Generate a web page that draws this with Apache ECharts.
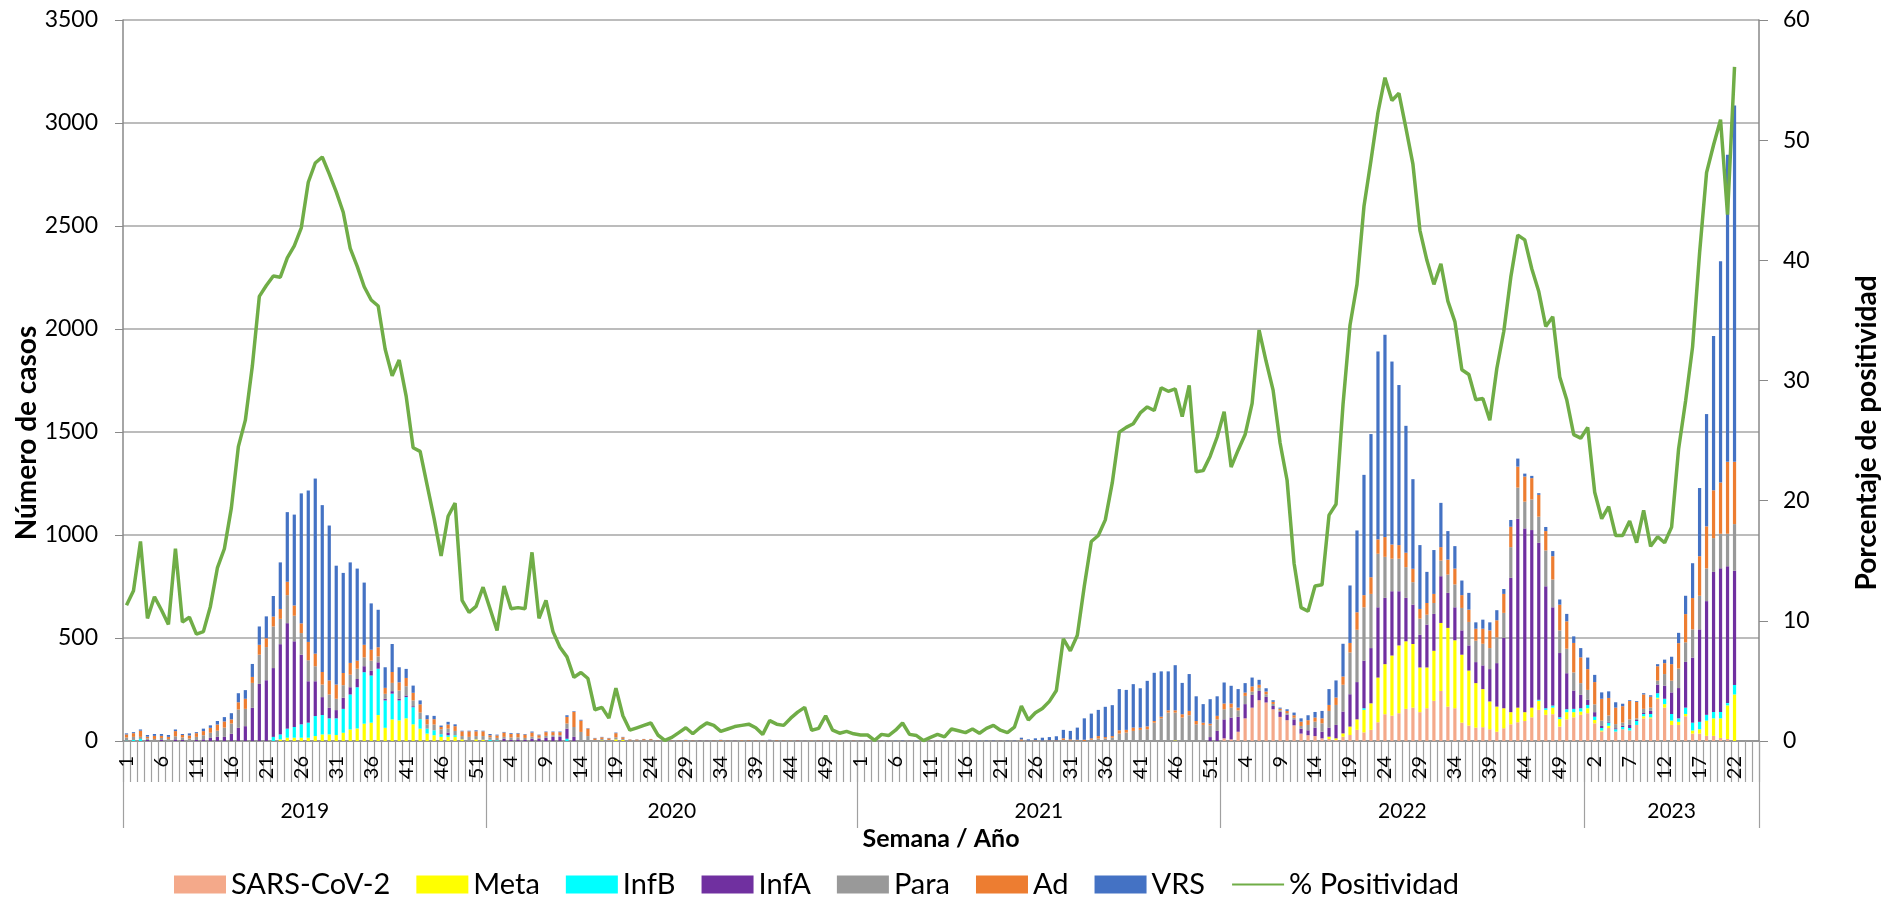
<!DOCTYPE html>
<html><head><meta charset="utf-8">
<script src="https://cdn.jsdelivr.net/npm/echarts@6/dist/echarts.min.js"></script>
<style>html,body{margin:0;padding:0;background:#fff}#c{width:1883px;height:899px}</style>
</head><body><div id="c"></div>
<script>
// ---- categories ----
const weeksPerYear = [52, 53, 52, 52, 25];
const yearLabels = ['2019', '2020', '2021', '2022', '2023'];
const seriesNames = ['SARS-CoV-2', 'Meta', 'InfB', 'InfA', 'Para', 'Ad', 'VRS'];
const lineName = '% Positividad';
const seriesColors = ['#F4A98A', '#FFFF00', '#00FFFF', '#7030A0', '#999999', '#ED7D31', '#4472C4'];
const lineColor = '#70AD47';

// ---- values (weekly cases) ----
const sarsCov2 = [
  // 2019
  0,0,0,0,0,0,0,0,0,0, 0,0,0,0,0,0,0,0,0,0, 0,0,0,0,0,0,0,0,0,0, 0,0,0,0,0,0,0,0,0,0, 0,0,0,0,0,0,0,0,0,0, 0,0,
  // 2020
  0,0,0,0,0,0,0,0,0,0, 0,0,0,0,0,0,0,0,0,0, 0,0,0,0,0,0,0,0,0,0, 0,0,0,0,0,0,0,0,0,0, 0,0,0,0,0,0,0,0,0,0, 0,0,0,
  // 2021
  0,0,0,0,0,0,0,0,0,0, 0,0,0,0,0,0,0,0,0,0, 0,0,0,0,0,0,0,0,0,0, 0,0,0,0,0,0,0,0,0,0, 0,0,0,0,0,0,0,0,0,0, 0,0,
  // 2022
  13,8,45,110,162,198,187,154,117,101, 76,36,28,24,13,10,5,21,29,54, 42,54,91,130,123,135,156,162,140,159,
  195,243,167,159,89,75,65,67,57,45, 62,81,91,97,115,151,127,130,70,105, 115,127,
  // 2023
  135,86,46,63,46,57,51,78,110,110, 205,162,78,78,120,36,36,25,25,15, 10,0
];
const meta = [
  // 2019
  0,0,0,0,0,0,0,0,0,0, 0,0,0,0,0,0,0,0,0,0, 0,0,
  8,16,16,16,16,24,32,32,29,40, 56,61,84,89,126,64,105,100,110,81, 60,36,28,20,20,20,8,0,8,6,
  // 2020
  0,0,0,0,0,0,0,0,0,0, 0,0,0,0,0,0,3,0,8,5,
  0,0,0,0,0,0,0,0,0,0, 0,0,0,0,0,0,0,0,0,0, 0,0,0,0,0,0,0,0,0,0, 0,0,0,
  // 2021
  0,0,0,0,0,0,0,0,0,0, 0,0,0,0,0,0,0,0,0,0, 0,0,0,0,0,0,0,0,0,0, 0,0,0,0,0,0,0,0,0,0, 0,0,0,0,0,3,0,0,0,0, 0,0,
  // 2022
  0,0,0,0,0,0,0,0,0,0, 0,0,0,0,0,
  11,8,16,41,51,109,129,217,243,292, 329,328,309,217,198,243,330,382,330,330, 267,216,185,135,122,97,59,71,43,47, 44,24,32,37,35,25,16,
  // 2023
  24,16,5,11,0,0,0,0,10,5, 5,17,21,15,11,15,21,74,85,95, 163,226
];
const infB = [
  // 2019
  2,5,10, 0,0,0,0,0,0,0,0,0,0, 0,0,0,0,0,0,0,0,
  20,24,44,52,65,73,97,94,78,81, 116,170,200,250,229,225,133,125,97,103, 83,46,24,24,13,8,8,0,0,0,0,
  // 2020
  6,3,0,0,0,0,0,0,0,0, 0,11,0,0,0,0,0,0,0,0,
  0,0,0,0,0,0,0,0,0,0, 0,0,0,0,0,0,0,0,0,0, 0,0,0,0,0,0,0,0,0,0, 0,0,0,
  // 2021
  0,0,0,0,0,0,0,0,0,0, 0,0,0,0,0,0,0,0,0,0, 0,0,0,0,0,0,0,0,0,0, 0,0,0,0,0,0,0,0,0,0, 0,0,0,0,0,0,0,0,0,0, 0,0,
  // 2022
  0,0,0,0,0,0,0,0,0,0, 0,0,0,0,0,0,0,0,0,0, 8,0,0,0,0,0,0,0,0,0,
  0,0,0,0,0,0,0,0,0,0, 0,0,0,0,0,5,8,10,8,14, 16,16,
  // 2023
  16,16,12,15,11,11,12,19,11,16, 22,26,32,17,31,38,36,28,31,31, 11,46
];
const infA = [
  // 2019
  0,0,0,5,0,5,0,8,5,0, 5,8,15,20,20,35,64,72,161,277, 295,334,438,512,416,338,201,169,87,51,
  40,54,35,40,29,24,31,8,12,8, 8,5,0,0,0,0,13,0,0,0, 0,0,
  // 2020
  0,0,11,5,8,5,11,10,15,20, 20,49,20,0,0,0,0,0,0,0, 0,0,0,0,0,0,1,0,0,0,
  0,1,0,0,0,1,0,0,0,0, 1,0,0,0,1,0,0,0,0,0, 0,0,0,
  // 2021
  0,0,0,0,0,0,0,0,0,0, 0,0,0,0,0,0,0,0,0,0, 0,0,0,0,0,0,0,0,0,0, 0,0,0,0,0,0,0,0,0,0, 0,0,0,0,0,0,0,0,0,0, 19,49,
  // 2022
  92,106,72,69,62,45,27,16,24,26, 29,24,24,41,32,44,65,106,157,181, 231,268,341,322,312,263,211,191,159,208,
  179,227,170,160,118,122,102,115,157,211, 341,652,917,892,862,762,592,477,312,175, 89,65,
  // 2023
  25,22,10,5,5,6,15,5,5,15, 42,63,105,147,222,316,449,552,680,697, 664,555
];
const para = [
  // 2019
  15,15,10,8,10,10,10,15,12,12, 15,20,25,30,45,50,89,84,121,142, 161,202,123,136,124,105,102,73,61,65,
  55,61,61,50,43,48,29,24,40,40, 45,28,32,21,28,24,19,21,16,20, 16,18,
  // 2020
  12,12,9,12,10,10,10,6,10,8, 8,25,48,44,24,5,7,5,10,5, 3,3,4,4,
  2,1,2,1,2,2,1,2,1,2, 1,2,2,1,2,1,2,1,2,2, 1,1,2,1,2,1,1,2,1,
  // 2021
  1,1,1,2,1,1,1,2,1,1, 1,1,1,1,1,1,2,1,1,1, 1,2,1,
  2,0,2,0,0,0,5,3,3,0, 6,12,12,16,36,41,49,54,57,89, 110,138,135,114,125,81,78,57,56,
  // 2022
  49,48,32,40,16,15,13,10,8,8, 8,13,26,29,41,81,97,130,203,254, 259,263,260,199,158,158,149,109,78,48,
  53,76,89,111,109,114,104,105,102,125, 122,149,151,130,149,127,174,135,110,119, 88,57,
  // 2023
  48,38,26,30,20,15,27,8,20,16, 19,57,57,95,95,137,163,159,164,168, 158,226
];
const ad = [
  // 2019
  15,18,30,8,15,10,10,25,12,15, 18,20,24,30,30,20,35,49,29,48, 43,48,48,65,50,47,89,61,61,68,
  69,59,57,39,61,53,44,29,53,40, 40,37,40,25,26,11,20,23,23,27, 23,23,
  // 2020
  10,12,21,18,18,16,20,12,18,15, 15,32,74,55,36,8,8,8,20,8, 4,4,5,5,
  2,3,1,2,3,2,2,1,2,3, 2,1,2,3,2,2,1,3,2,1, 2,1,1,2,1,2,1,1,2,
  // 2021
  1,1,1,1,1,0,1,1,0,1, 1,1,0,1,1,1,1,0,1,1, 1,1,1,
  6,2,2,2,3,3,8,5,3,6, 7,12,7,8,16,13,16,11,14,8, 8,11,11,16,21,16,11,8,17,
  // 2022
  28,20,13,16,25,15,13,10,8,11, 12,21,23,20,24,29,36,40,46,85, 59,81,70,96,69,66,70,65,47,57,
  44,65,73,77,62,60,58,73,86,83, 92,99,102,122,103,106,94,113,125,133, 143,125,
  // 2023
  101,108,106,85,80,80,89,80,70,53, 70,53,80,123,137,152,192,204,232,249, 349,302
];
const vrs = [
  // 2019
  5,5,6,8,9,9,9,8,5,10, 5,12,12,17,21,30,44,42,63,89, 106,100,226,338,441,631,735,850,810,752,
  577,486,488,447,302,225,182,100,136,73, 44,35,19,19,16,7,13,9,3,3, 5,3,
  // 2020
  6,4,3,4,3,3,5,3,3,3, 3,8,3,4,2,2,2,2,3,2, 1,1,1,1,
  1,1,0,1,1,1,2,1,1,1, 1,1,0,1,1,1,2,1,1,0, 1,1,0,1,1,1,0,1,1,
  // 2021
  1,1,0,1,1,1,2,1,1,1, 1,1,1,1,1,1,1,1,2,2, 1,2,2,
  8,6,9,14,16,20,41,41,59,104, 120,127,147,150,200,194,211,191,221,234, 220,189,219,152,179,120,90,119,95,
  // 2022
  102,86,90,46,43,24,16,8,5,8, 13,16,24,27,36,77,83,159,279,397, 584,695,912,982,888,777,616,435,310,151,
  213,215,138,109,71,81,31,44,39,49, 24,33,39,14,11,8,20,25,25,36, 32,45,
  // 2023
  56,35,31,32,26,12,4,4,6,7, 10,17,36,50,89,169,331,545,749,1074, 1491,1730
];
// ---- % positividad ----
const positividad = [
  // 2019
  11.3,12.5,16.6,10.2,12.0,10.9,9.7,16.0,9.9,10.3, 8.9,9.1,11.2,14.4,16.0,19.4,24.5,26.7,31.2,37.0,
  37.9,38.7,38.6,40.2,41.2,42.7,46.5,48.1,48.6,47.2, 45.7,44.0,41.0,39.5,37.8,36.7,36.2,32.6,30.4,31.7,
  28.7,24.4,24.1,21.3,18.5,15.4,18.7,19.8,11.7,10.7, 11.2,12.8,
  // 2020
  11.0,9.2,12.9,11.0,11.1,11.0,15.7,10.2,11.7,9.1, 7.8,7.0,5.3,5.7,5.2,2.6,2.8,1.9,4.4,2.1,
  0.9,1.1,1.3,1.5,0.5,0.05,0.3,0.7,1.1,0.6, 1.1,1.5,1.3,0.8,1.0,1.2,1.3,1.4,1.1,0.55,
  1.7,1.4,1.3,1.9,2.4,2.8,0.9,1.05,2.1,0.9, 0.65,0.8,0.6,
  // 2021
  0.5,0.5,0.05,0.55,0.45,0.9,1.5,0.55,0.45,0.03, 0.3,0.55,0.35,1.0,0.85,0.7,1.0,0.65,1.05,1.3,
  0.9,0.7,1.15,2.9,1.75,2.35,2.7,3.3,4.2,8.5, 7.5,8.8,12.9,16.6,17.1,18.4,21.5,25.7,26.1,26.4,
  27.3,27.8,27.5,29.4,29.1,29.3,27.0,29.6,22.4,22.5, 23.7,25.3,
  // 2022
  27.4,22.8,24.2,25.5,28.1,34.2,31.6,29.2,24.8,21.7, 14.8,11.1,10.8,12.9,13.0,18.8,19.7,28.0,34.6,38.0,
  44.5,48.3,52.3,55.2,53.3,53.9,51.0,48.0,42.5,40.0, 38.0,39.7,36.6,34.9,30.9,30.5,28.4,28.5,26.7,31.0,
  34.1,38.6,42.1,41.7,39.3,37.4,34.5,35.3,30.3,28.4, 25.5,25.2,
  // 2023
  26.1,20.7,18.5,19.5,17.1,17.1,18.3,16.5,19.2,16.2, 17.0,16.5,17.8,24.3,28.3,32.8,40.6,47.3,49.6,51.7,
  43.8,56.1
];
const yTicksLeft = { min: 0, max: 3500, interval: 500 };
const yTicksRight = { min: 0, max: 60, interval: 10 };
const leftTitle = 'Número de casos';
const rightTitle = 'Porcentaje de positividad';

// ---- build ----
const categories = [];
const yearBounds = [0];
weeksPerYear.forEach(n => {
  for (let w = 1; w <= n; w++) categories.push(String(w));
  yearBounds.push(yearBounds[yearBounds.length - 1] + n);
});
const yearMids = yearLabels.map((y, k) => (yearBounds[k] + yearBounds[k + 1]) / 2);
const pad = a => a.concat(new Array(categories.length - a.length).fill(null));
const barData = [sarsCov2, meta, infB, infA, para, ad, vrs];

const FONT = 'Lato';
const axisGray = '#898989';
const titleStyle = { fontSize: 28, fontWeight: 'bold', fontFamily: FONT, fill: '#000', align: 'center', verticalAlign: 'middle' };

const chart = echarts.init(document.getElementById('c'), null, { renderer: 'canvas' });
chart.setOption({
  animation: false,
  textStyle: { fontFamily: FONT },
  grid: { left: 123, right: 124, top: 20, bottom: 158, containLabel: false },
  legend: {
    left: 169, top: 865, itemWidth: 52, itemHeight: 18, itemGap: 26,
    textStyle: { fontSize: 29, color: '#000', fontFamily: FONT },
    data: seriesNames.map(n => ({ name: n, icon: 'rect' }))
      .concat([{ name: lineName, itemStyle: { opacity: 0 } }])
  },
  graphic: [
    { type: 'text', x: 27, y: 433, rotation: Math.PI / 2, silent: true,
      style: Object.assign({ text: leftTitle }, titleStyle) },
    { type: 'text', x: 1867, y: 433, rotation: Math.PI / 2, silent: true,
      style: Object.assign({ text: rightTitle }, titleStyle) }
  ],
  xAxis: [
    {
      type: 'category', data: categories, boundaryGap: true, position: 'bottom',
      axisLine: { show: true, lineStyle: { color: axisGray, width: 1.5 } },
      axisTick: { show: true, interval: 0, length: 41, lineStyle: { color: '#a0a0a0', width: 1.2 } },
      axisLabel: { interval: 4, rotate: 90, fontSize: 20, color: '#000', margin: 15, fontFamily: FONT },
      splitLine: { show: false }
    },
    {
      type: 'value', min: 0, max: categories.length, position: 'bottom',
      name: 'Semana / Año', nameLocation: 'middle', nameGap: 80,
      nameTextStyle: { fontSize: 25, fontWeight: 'bold', color: '#000', fontFamily: FONT },
      axisLine: { show: false },
      axisTick: { show: true, customValues: yearBounds, length: 87, lineStyle: { color: '#a0a0a0', width: 1.2 } },
      axisLabel: {
        customValues: yearMids, fontSize: 21, color: '#000', margin: 60, fontFamily: FONT,
        formatter: v => yearLabels[yearMids.indexOf(v)] || ''
      },
      splitLine: { show: false }
    }
  ],
  yAxis: [
    {
      type: 'value', position: 'left', ...yTicksLeft,
      axisLine: { show: true, lineStyle: { color: axisGray, width: 1.5 } },
      axisTick: { show: true, length: 8, lineStyle: { color: axisGray } },
      axisLabel: { fontSize: 23, color: '#000', margin: 25, fontFamily: FONT, formatter: v => String(v) },
      splitLine: { show: true, lineStyle: { color: '#a6a6a6', width: 1.5 } }
    },
    {
      type: 'value', position: 'right', ...yTicksRight,
      axisLine: { show: true, lineStyle: { color: axisGray, width: 1.5 } },
      axisTick: { show: true, length: 9, lineStyle: { color: axisGray } },
      axisLabel: { fontSize: 23, color: '#000', margin: 24, fontFamily: FONT, formatter: v => String(v) },
      splitLine: { show: false }
    }
  ],
  series: seriesNames.map((n, k) => ({
    name: n, type: 'bar', stack: 'casos', xAxisIndex: 0, yAxisIndex: 0,
    barWidth: '46%', data: pad(barData[k]),
    itemStyle: { color: seriesColors[k] }
  })).concat([{
    name: lineName, type: 'line', xAxisIndex: 0, yAxisIndex: 1,
    data: pad(positividad), symbol: 'none', z: 5,
    lineStyle: { color: lineColor, width: 3.5 }, itemStyle: { color: lineColor }
  }])
});
</script>
</body></html>
